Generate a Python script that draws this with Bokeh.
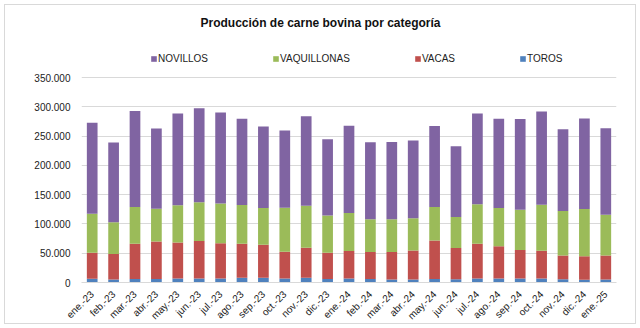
import math
from bokeh.plotting import figure
from bokeh.models import (Range1d, FactorRange, Legend, LegendItem, Label, FixedTicker,
                          CustomJSTickFormatter, InlineStyleSheet)
from bokeh.embed import file_html
from bokeh.resources import INLINE

months = ["ene.-23", "feb.-23", "mar.-23", "abr.-23", "may.-23", "jun.-23", "jul.-23",
          "ago.-23", "sep.-23", "oct.-23", "nov.-23", "dic.-23", "ene.-24", "feb.-24",
          "mar.-24", "abr.-24", "may.-24", "jun.-24", "jul.-24", "ago.-24", "sep.-24",
          "oct.-24", "nov.-24", "dic.-24", "ene.-25"]

toros = [6300, 5000, 6000, 6000, 7000, 7000, 7000, 8000, 8000, 7000, 8000, 6000, 7000,
         6000, 5000, 5000, 6000, 5500, 7000, 7000, 7000, 7000, 5500, 4500, 5000]
vacas = [44500, 43500, 60000, 64000, 61400, 63700, 60000, 58000, 56500, 45500, 51400, 44800,
         46600, 45900, 46900, 49800, 65900, 53200, 59200, 55100, 48300, 47200, 40700, 40500, 41200]
vaquillonas = [66700, 54500, 63000, 56000, 63300, 66200, 68000, 66300, 62500, 75300, 71600, 63800,
               65000, 55900, 55900, 54700, 57000, 53100, 67300, 65000, 69100, 78700, 75800, 80400, 69600]
novillos = [155100, 136000, 164000, 137000, 156900, 160800, 155300, 147200, 139400, 131700, 153000, 130100,
            148900, 131700, 132200, 132900, 138100, 120900, 155100, 152400, 154600, 159100, 139800, 154600, 147700]

y_ticks = [0, 50000, 100000, 150000, 200000, 250000, 300000, 350000]

series = ["toros", "vacas", "vaquillonas", "novillos"]
names = {"toros": "TOROS", "vacas": "VACAS", "vaquillonas": "VAQUILLONAS", "novillos": "NOVILLOS"}
colors = ["#4F81BD", "#C0504D", "#9BBB59", "#8064A2"]

data = {"months": months, "toros": toros, "vacas": vacas,
        "vaquillonas": vaquillonas, "novillos": novillos}

# frame spans canvas y 5..282; 350.000 sits at y=77 -> range top extends above
y_end = 350000 * 277 / 205

p = figure(width=640, height=328, x_range=FactorRange(*months), y_range=Range1d(0, y_end),
           output_backend="svg", toolbar_location=None,
           min_border_left=81, min_border_right=24, min_border_top=5, min_border_bottom=46)
p.stylesheets = [InlineStyleSheet(css="""
:host { position: relative; }
:host::after { content: ''; position: absolute; left: 4px; top: 4px; right: 4px; bottom: 4px;
               border: 1px solid #d9d9d9; pointer-events: none; z-index: 10; }
""")]

renderers = p.vbar_stack(series, x="months", width=0.5, color=colors, source=data,
                         line_color=None)

p.x_range.range_padding = 0
p.x_range.group_padding = 0

p.yaxis.ticker = FixedTicker(ticks=y_ticks)
p.yaxis.formatter = CustomJSTickFormatter(code="return tick.toLocaleString('de-DE');")
p.yaxis.axis_line_color = None
p.yaxis.major_tick_line_color = None
p.yaxis.minor_tick_line_color = None
p.yaxis.major_label_text_font = "Liberation Sans"
p.yaxis.major_label_text_font_size = "10px"
p.yaxis.major_label_text_color = "#222222"
p.yaxis.major_label_standoff = 5

p.xaxis.axis_line_color = "#d9d9d9"
p.xaxis.major_tick_line_color = None
p.xaxis.minor_tick_line_color = None
p.xaxis.major_label_orientation = math.pi / 4
p.xaxis.major_label_text_font = "Liberation Sans"
p.xaxis.major_label_text_font_size = "10px"
p.xaxis.major_label_text_color = "#222222"
p.xaxis.major_label_standoff = 4

p.xgrid.grid_line_color = None
p.ygrid.grid_line_color = "#d9d9d9"
p.outline_line_color = None

items = [LegendItem(label=names[s], renderers=[r]) for s, r in zip(series, renderers)]
items = items[::-1]
legend = Legend(items=items, orientation="horizontal", location=(69, 218),
                glyph_width=7, glyph_height=7, label_standoff=1, spacing=64,
                label_text_font="Liberation Sans", label_text_font_size="10px",
                label_text_color="#222222", background_fill_alpha=0, border_line_color=None,
                padding=0, margin=0)
p.add_layout(legend, "center")

title = Label(x=320, y=22, x_units="canvas", y_units="canvas",
              text="Producción de carne bovina por categoría",
              text_font="Liberation Sans", text_font_size="12px", text_font_style="bold",
              text_align="center", text_baseline="middle", text_color="#111111")
p.add_layout(title)

open("out.html", "w").write(file_html(p, INLINE))
